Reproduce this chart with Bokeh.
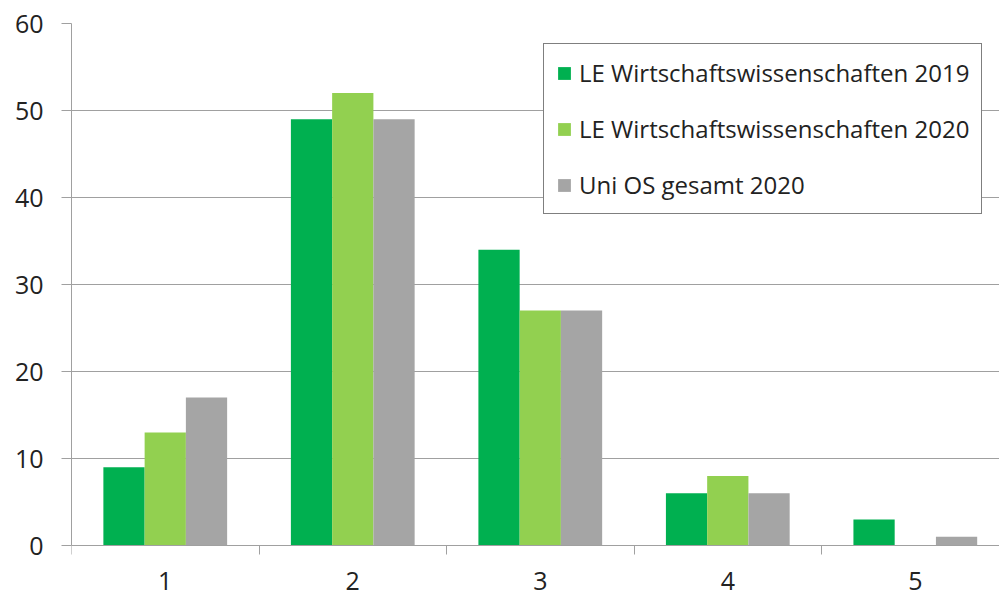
from bokeh.plotting import figure
from bokeh.models import (ColumnDataSource, Range1d, FixedTicker, Legend, LegendItem,
                          LinearAxis, Grid)
from bokeh.transform import dodge
from bokeh.embed import file_html
from bokeh.resources import INLINE

# ---- data ----
categories = [1, 2, 3, 4, 5]
category_labels = ["1", "2", "3", "4", "5"]
le_2019 = [9, 49, 34, 6, 3]
le_2020 = [13, 52, 27, 8, 0]
uni_2020 = [17, 49, 27, 6, 1]
series_names = ["LE Wirtschaftswissenschaften 2019",
                "LE Wirtschaftswissenschaften 2020",
                "Uni OS gesamt 2020"]
y_ticks = [0, 10, 20, 30, 40, 50, 60]

colors = ["#00B050", "#92D050", "#A5A5A5"]
FONT = "Open Sans"
TEXT = "#222222"
GRID = "#A0A0A0"

src = ColumnDataSource(dict(cat=categories, a=le_2019, b=le_2020, c=uni_2020))

# frame: top at 23px, y=0 at 545px, bottom of frame at 597px -> extend range below 0
p = figure(width=999, height=597, output_backend="svg", toolbar_location=None,
           x_range=Range1d(0.5, 5.449), y_range=Range1d(-5.977, 60),
           x_axis_location=None, y_axis_location=None,
           min_border_left=71, min_border_right=0, min_border_top=23, min_border_bottom=0)
p.outline_line_color = None
p.background_fill_color = "white"
p.border_fill_color = "white"
p.xgrid.grid_line_color = None
p.ygrid.grid_line_color = None

p.add_layout(Grid(dimension=1, ticker=FixedTicker(ticks=y_ticks), grid_line_color=GRID))

bw = 0.22
renderers = []
for col, off, color in zip(["a", "b", "c"], [-bw, 0, bw], colors):
    r = p.vbar(x=dodge("cat", off, range=p.x_range), top=col, width=bw, bottom=0,
               source=src, fill_color=color, line_color=None)
    renderers.append(r)

# y axis
yaxis = LinearAxis(ticker=FixedTicker(ticks=y_ticks), bounds=(0, 60))
yaxis.axis_line_color = GRID
yaxis.major_tick_line_color = GRID
yaxis.major_tick_out = 10
yaxis.major_tick_in = 0
yaxis.minor_tick_line_color = None
yaxis.major_label_standoff = 18
yaxis.major_label_text_font = FONT
yaxis.major_label_text_font_size = "25px"
yaxis.major_label_text_color = TEXT
p.add_layout(yaxis, "left")

# x axis fixed at y = 0
xaxis = LinearAxis(ticker=FixedTicker(ticks=categories,
                                      minor_ticks=[c - 0.5 for c in categories]),
                   fixed_location=0)
xaxis.major_label_overrides = {c: l for c, l in zip(categories, category_labels)}
xaxis.axis_line_color = GRID
xaxis.major_tick_line_color = None
xaxis.major_tick_out = 0
xaxis.major_tick_in = 0
xaxis.minor_tick_line_color = GRID
xaxis.minor_tick_out = 9
xaxis.minor_tick_in = 0
xaxis.major_label_standoff = 17
xaxis.major_label_text_font = FONT
xaxis.major_label_text_font_size = "25px"
xaxis.major_label_text_color = TEXT
p.add_layout(xaxis, "below")

legend = Legend(items=[LegendItem(label=n, renderers=[r]) for n, r in zip(series_names, renderers)],
                location=(472, 383))
legend.border_line_color = "#000000"
legend.border_line_width = 1
legend.background_fill_alpha = 1
legend.label_text_font = FONT
legend.label_text_font_size = "24px"
legend.label_text_color = TEXT
legend.glyph_width = 16
legend.glyph_height = 16
legend.label_height = 33
legend.label_standoff = 7
legend.spacing = 23
legend.padding = 12
legend.margin = 0
p.add_layout(legend)

open("out.html", "w").write(file_html(p, INLINE))
